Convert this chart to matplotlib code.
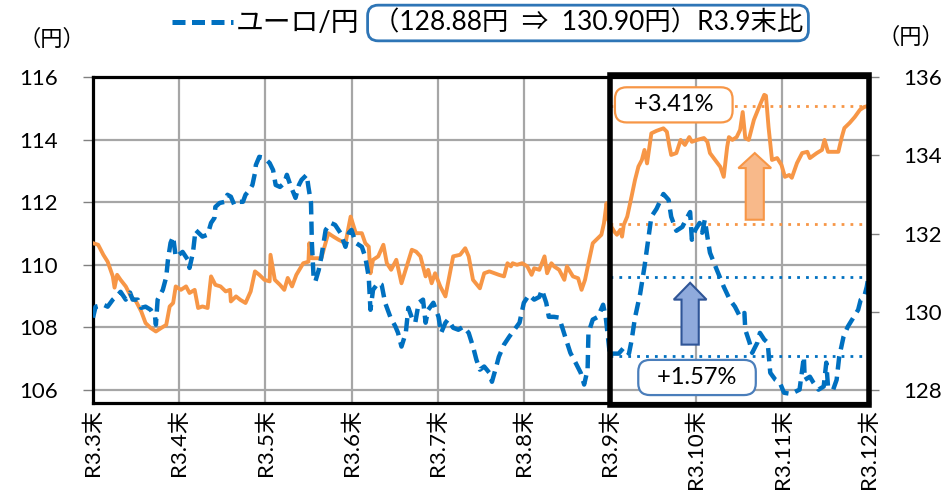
import matplotlib
matplotlib.use("Agg")
import matplotlib.pyplot as plt
from matplotlib.patches import Rectangle, FancyArrow
from matplotlib.lines import Line2D
import matplotlib.transforms as mtransforms

plt.rcParams['font.family'] = ['Lato', 'Noto Sans CJK JP', 'DejaVu Sans']

# 目盛ラベル（月末）
month_labels = ['R3.3末', 'R3.4末', 'R3.5末', 'R3.6末', 'R3.7末',
                'R3.8末', 'R3.9末', 'R3.10末', 'R3.11末', 'R3.12末']

# ドル/円（左軸）: 位置は月単位（0 = R3.3末）
usd_t = [0.00, 0.06, 0.12, 0.17, 0.23, 0.25, 0.28, 0.32, 0.38, 0.44,
         0.50, 0.56, 0.61, 0.67, 0.73, 0.79, 0.85, 0.89, 0.93, 0.96,
         1.02, 1.08, 1.12, 1.18, 1.22, 1.27, 1.33, 1.37, 1.42, 1.48,
         1.54, 1.59, 1.60, 1.66, 1.71, 1.77, 1.83, 1.88, 1.93, 1.99,
         2.05, 2.06, 2.11, 2.17, 2.22, 2.26, 2.31, 2.36, 2.44, 2.50,
         2.51, 2.54, 2.65, 2.73, 2.79, 2.85, 2.93, 2.99, 3.05, 3.12,
         3.16, 3.20, 3.22, 3.25, 3.31, 3.37, 3.41, 3.46, 3.52, 3.58,
         3.64, 3.70, 3.75, 3.80, 3.86, 3.89, 3.93, 3.97, 4.03, 4.09,
         4.15, 4.18, 4.26, 4.32, 4.36, 4.41, 4.49, 4.54, 4.60, 4.66,
         4.71, 4.77, 4.81, 4.85, 4.87, 4.92, 4.98, 5.04, 5.09, 5.12,
         5.18, 5.24, 5.27, 5.32, 5.35, 5.41, 5.47, 5.50, 5.57, 5.63,
         5.67, 5.71, 5.75, 5.80, 5.86, 5.90, 5.93, 5.96, 5.98, 6.00,
         6.05, 6.08, 6.12, 6.14, 6.16, 6.20, 6.25, 6.29, 6.33, 6.37,
         6.40, 6.43, 6.45, 6.48, 6.54, 6.62, 6.66, 6.69, 6.71, 6.77,
         6.82, 6.87, 6.92, 6.95, 7.01, 7.09, 7.13, 7.16, 7.22, 7.28,
         7.32, 7.36, 7.38, 7.42, 7.47, 7.51, 7.54, 7.57, 7.61, 7.67,
         7.73, 7.79, 7.81, 7.84, 7.88, 7.94, 7.99, 8.03, 8.08, 8.11,
         8.17, 8.23, 8.29, 8.32, 8.40, 8.46, 8.49, 8.53, 8.65, 8.69,
         8.72, 8.78, 8.84, 8.90, 8.95, 9.00]
usd_v = [110.69, 110.64, 110.32, 110.10, 109.63, 109.27, 109.68, 109.52, 109.31, 108.99,
         108.83, 108.51, 108.14, 107.98, 107.87, 107.98, 108.08, 108.67, 108.78, 109.31,
         109.20, 109.31, 109.10, 109.20, 108.62, 108.67, 108.62, 109.63, 109.36, 109.31,
         109.15, 109.20, 108.83, 108.99, 108.88, 108.78, 109.15, 109.79, 109.68, 109.52,
         109.47, 110.32, 109.52, 109.36, 109.20, 109.58, 109.31, 109.68, 110.05, 110.10,
         110.69, 110.21, 110.21, 111.01, 110.90, 110.80, 110.69, 111.54, 111.01, 111.01,
         110.69, 110.58, 109.73, 110.16, 110.27, 110.64, 110.05, 109.84, 110.16, 109.41,
         109.95, 110.48, 110.42, 110.27, 109.63, 109.84, 109.41, 109.73, 109.31, 108.99,
         109.84, 110.27, 110.32, 110.53, 110.27, 109.52, 109.25, 109.73, 109.79, 109.73,
         109.68, 109.63, 110.05, 109.95, 110.05, 110.00, 110.05, 109.95, 109.68, 109.89,
         109.84, 110.27, 109.73, 110.05, 109.95, 109.84, 109.52, 109.95, 109.63, 109.57,
         109.20, 109.52, 110.05, 110.69, 110.85, 110.96, 111.33, 111.97, 111.44, 111.29,
         111.06, 110.96, 111.12, 110.90, 111.28, 111.54, 112.18, 112.71, 113.14, 113.35,
         113.67, 113.24, 113.62, 114.20, 114.28, 114.36, 114.25, 113.78, 113.51, 113.57,
         113.99, 113.83, 114.08, 113.93, 113.99, 114.05, 113.93, 113.57, 113.35, 113.13,
         112.81, 113.77, 114.08, 113.99, 114.08, 114.31, 114.88, 114.05, 113.99, 114.63,
         115.04, 115.43, 115.40, 114.40, 113.35, 113.41, 113.19, 112.81, 112.87, 112.78,
         113.25, 113.57, 113.61, 113.41, 113.57, 113.67, 113.99, 113.61, 113.61, 114.08,
         114.37, 114.53, 114.72, 114.95, 115.04, 115.08]

# ユーロ/円（右軸）
eur_t = [0.00, 0.03, 0.12, 0.17, 0.23, 0.29, 0.32, 0.38, 0.43, 0.46,
         0.52, 0.56, 0.61, 0.67, 0.72, 0.73, 0.75, 0.81, 0.85, 0.87,
         0.90, 0.93, 0.96, 1.04, 1.10, 1.12, 1.16, 1.19, 1.27, 1.33,
         1.37, 1.41, 1.42, 1.47, 1.53, 1.56, 1.60, 1.64, 1.70, 1.74,
         1.77, 1.82, 1.85, 1.88, 1.89, 1.93, 1.99, 2.05, 2.09, 2.12,
         2.17, 2.22, 2.25, 2.29, 2.35, 2.39, 2.42, 2.48, 2.50, 2.53,
         2.54, 2.56, 2.58, 2.62, 2.65, 2.70, 2.76, 2.81, 2.87, 2.93,
         2.97, 3.00, 3.05, 3.12, 3.16, 3.20, 3.22, 3.25, 3.31, 3.35,
         3.39, 3.45, 3.51, 3.54, 3.58, 3.63, 3.66, 3.70, 3.74, 3.78,
         3.83, 3.86, 3.89, 3.95, 4.01, 4.04, 4.09, 4.12, 4.18, 4.24,
         4.30, 4.36, 4.41, 4.45, 4.49, 4.54, 4.60, 4.63, 4.68, 4.71,
         4.77, 4.83, 4.89, 4.95, 5.00, 5.06, 5.12, 5.18, 5.21, 5.26,
         5.29, 5.35, 5.41, 5.48, 5.54, 5.60, 5.66, 5.70, 5.74, 5.75,
         5.80, 5.86, 5.92, 5.95, 6.00, 6.02, 6.10, 6.16, 6.22, 6.25,
         6.29, 6.35, 6.40, 6.48, 6.54, 6.62, 6.68, 6.71, 6.77, 6.84,
         6.90, 6.93, 6.95, 6.99, 7.04, 7.07, 7.10, 7.13, 7.16, 7.24,
         7.32, 7.39, 7.45, 7.51, 7.56, 7.57, 7.62, 7.65, 7.71, 7.74,
         7.79, 7.83, 7.86, 7.92, 7.97, 8.02, 8.10, 8.20, 8.25, 8.26,
         8.32, 8.36, 8.42, 8.48, 8.51, 8.53, 8.59, 8.63, 8.66, 8.71,
         8.76, 8.83, 8.88, 8.91, 8.95, 8.98, 9.00]
eur_v = [129.85, 130.13, 130.18, 130.13, 130.31, 130.43, 130.51, 130.31, 130.49, 130.31,
         130.31, 130.10, 130.13, 130.05, 129.87, 129.67, 130.31, 130.56, 130.89, 131.33,
         131.76, 131.92, 131.40, 131.53, 131.33, 131.12, 131.51, 132.09, 131.92, 131.97,
         132.27, 132.40, 132.68, 132.78, 132.81, 132.99, 132.94, 132.73, 132.81, 132.81,
         132.99, 133.12, 133.24, 133.55, 133.75, 133.96, 133.93, 133.80, 133.62, 133.24,
         133.19, 133.29, 133.50, 133.24, 132.91, 133.24, 133.37, 133.50, 133.19, 132.78,
         131.76, 130.89, 130.77, 131.07, 131.40, 132.09, 132.27, 132.22, 132.02, 131.66,
         132.02, 132.09, 131.76, 131.66, 131.40, 130.89, 130.05, 130.56, 130.74, 130.69,
         130.23, 129.87, 129.62, 129.46, 129.11, 129.46, 130.10, 129.85, 129.72, 130.23,
         130.31, 129.72, 130.05, 130.23, 129.87, 129.46, 129.72, 129.80, 129.59, 129.54,
         129.62, 129.46, 129.11, 128.77, 128.52, 128.60, 128.44, 128.21, 128.60, 128.85,
         129.16, 129.36, 129.54, 129.72, 130.23, 130.43, 130.31, 130.38, 130.56, 130.23,
         129.87, 129.87, 129.85, 129.36, 128.95, 128.70, 128.44, 128.14, 128.52, 129.46,
         129.80, 129.87, 130.18, 129.87, 128.88, 128.93, 128.93, 129.08, 128.93, 129.26,
         129.85, 130.46, 131.15, 132.43, 132.63, 133.01, 132.86, 132.43, 132.07, 132.17,
         132.43, 132.55, 131.84, 132.09, 132.27, 132.02, 132.35, 131.92, 131.51, 131.07,
         130.64, 130.31, 130.13, 129.87, 129.97, 129.54, 129.21, 128.95, 129.21, 129.46,
         129.29, 129.21, 128.44, 128.26, 128.19, 127.93, 127.90, 128.01, 128.85, 128.26,
         128.34, 128.19, 128.01, 128.09, 128.70, 128.09, 128.01, 128.26, 128.85, 129.36,
         129.62, 129.87, 130.05, 130.31, 130.38, 130.64, 130.90]

# R3.9末 と R3.12末 の水準、変化率
usd_ref = [111.29, 115.08]
eur_ref = [128.88, 130.90]
usd_chg = '+3.41%'
eur_chg = '+1.57%'

ORANGE = '#F79646'
BLUE = '#0070C0'
EUR_DASH = (0, (3, 1.6))

fig = plt.figure(figsize=(9.47, 4.98), dpi=100)
ax = fig.add_axes([93 / 947, 95 / 498, 775.5 / 947, 326 / 498])
ax2 = ax.twinx()

ax.set_xlim(0, 9)
ax.set_ylim(105.585, 116)
ax2.set_ylim(127.668, 136)
ax.set_yticks(range(106, 117, 2))
ax2.set_yticks(range(128, 137, 2))
ax.set_xticks(range(len(month_labels)))
ax.set_xticklabels(month_labels, rotation=90, fontsize=16)

ax.grid(True, color='#A6A6A6', lw=1.6)
ax.set_axisbelow(True)
ax.tick_params(axis='y', direction='out', length=7, width=1, color='#808080',
               labelsize=16, pad=18)
ax2.tick_params(axis='y', direction='out', length=7, width=1, color='#808080',
                labelsize=16, pad=18)
ax.tick_params(axis='x', length=0, pad=4)
for s in ax.spines.values():
    s.set_linewidth(2.3)
    s.set_color('black')
for s in ax2.spines.values():
    s.set_visible(False)

# 系列
ax.plot(usd_t, usd_v, color=ORANGE, lw=2.8, solid_joinstyle='round', zorder=3)
ax2.plot(eur_t, eur_v, color=BLUE, lw=3.2, ls=EUR_DASH, zorder=3)

# 基準線（点線）
for v in usd_ref:
    ax.plot([6, 9], [v, v], color=ORANGE, lw=2, ls=(0, (1, 2.2)), zorder=2)
for v in eur_ref:
    ax2.plot([6, 9], [v, v], color=BLUE, lw=2, ls=(0, (1, 2.2)), zorder=2)

# 矢印
ax.add_patch(FancyArrow(7.68, 111.44, 0, 2.13, width=0.21, head_width=0.38,
                        head_length=0.48, length_includes_head=True,
                        fc='#F8B98A', ec=ORANGE, lw=1.5, zorder=4))
ax2.add_patch(FancyArrow(6.93, 129.16, 0, 1.58, width=0.20, head_width=0.38,
                         head_length=0.43, length_includes_head=True,
                         fc='#8FAADC', ec='#2F5597', lw=1.5, zorder=4))

# 変化率ボックス
ax.text(6.74, 115.11, '  ' + usd_chg + '  ', fontsize=17, ha='center', va='center',
        zorder=6, bbox=dict(boxstyle='round,pad=0.3,rounding_size=0.5', fc='white',
                            ec=ORANGE, lw=1.6))
ax2.text(7.01, 128.32, '  ' + eur_chg + '  ', fontsize=17, ha='center', va='center',
         zorder=6, bbox=dict(boxstyle='round,pad=0.3,rounding_size=0.5', fc='white',
                             ec='#4A7EBB', lw=1.6))

# R3.9末以降の太枠
trans = mtransforms.blended_transform_factory(ax2.transData, ax2.transAxes)
ax2.add_patch(Rectangle((6, -0.006), 3, 1.012, transform=trans, fill=False,
                        ec='black', lw=4, clip_on=False, zorder=7))

# 凡例
fig.add_artist(Line2D([172 / 947, 233 / 947], [1 - 22 / 498, 1 - 22 / 498],
                      color=BLUE, lw=3.6, ls=(0, (2.6, 1.3))))
fig.text(236 / 947, 1 - 23 / 498, 'ユーロ/円', fontsize=20, va='center', ha='left')
fig.text(588 / 947, 1 - 23 / 498,
         f'（{eur_ref[0]:.2f}円  ⇒  {eur_ref[1]:.2f}円）R3.9末比',
         fontsize=19, va='center', ha='center',
         bbox=dict(boxstyle='round,pad=0.2,rounding_size=0.4', fc='white',
                   ec='#2E75B6', lw=2))

# 単位
fig.text(52 / 947, 1 - 39 / 498, '（円）', fontsize=16, ha='center', va='center')
fig.text(911 / 947, 1 - 37 / 498, '（円）', fontsize=16, ha='center', va='center')

fig.savefig('out.png', dpi=100)
